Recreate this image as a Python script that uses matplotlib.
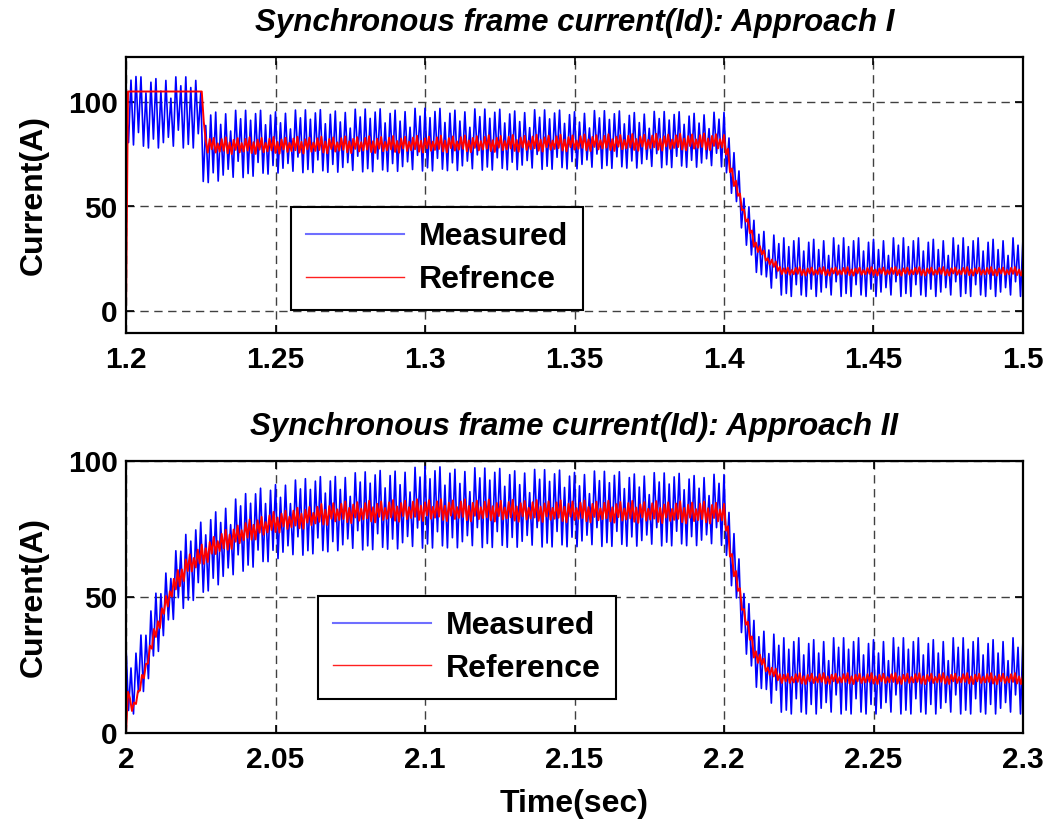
import numpy as np
import matplotlib
matplotlib.use("Agg")
import matplotlib.pyplot as plt

# ---------------- data ----------------
# Panel I (Approach I)
t1_range = (1.2, 1.5)
meas1_t    = [1.2, 1.2015, 1.205, 1.2245, 1.2255, 1.23, 1.25, 1.3, 1.4, 1.402, 1.405, 1.41, 1.415, 1.42, 1.5]
meas1_mean = [88, 98, 95, 95, 79, 79, 81, 82, 82, 72, 55, 32, 24, 21, 21]
meas1_amp  = [10, 18, 17, 17, 18, 17, 15, 15, 13, 13, 12, 12, 13, 14, 14]
ref1_t     = [1.2, 1.20005, 1.2255, 1.2265, 1.23, 1.4, 1.402, 1.405, 1.41, 1.415, 1.42, 1.5]
ref1_mean  = [0, 105, 105, 80, 79, 81, 70, 55, 33, 24, 19, 19]
ref1_amp   = [0, 0, 0, 4, 4, 4, 4, 3, 2.5, 2, 2, 2]

# Panel II (Approach II)
t2_range = (2.0, 2.3)
meas2_t    = [2.0, 2.002, 2.005, 2.01, 2.015, 2.02, 2.03, 2.04, 2.05, 2.07, 2.1, 2.2, 2.202, 2.205, 2.21, 2.215, 2.22, 2.3]
meas2_mean = [20, 16, 24, 40, 52, 60, 68, 74, 78, 81, 83, 82, 70, 52, 30, 24, 21, 21]
meas2_amp  = [12, 10, 12, 12, 12, 13, 14, 14, 14, 14, 15, 13, 13, 12, 12, 13, 14, 14]
ref2_t     = [2.0, 2.0003, 2.002, 2.004, 2.01, 2.015, 2.02, 2.03, 2.04, 2.05, 2.07, 2.1, 2.2, 2.202, 2.205, 2.21, 2.215, 2.22, 2.3]
ref2_mean  = [0, 17, 9, 14, 38, 52, 61, 69, 74, 77.5, 81, 82, 81, 68, 52, 30, 23, 20, 20]
ref2_amp   = [0, 0, 1, 2, 3, 3.5, 4, 4, 4, 4, 4, 4, 4, 3.5, 3, 2.5, 2, 2, 2]

# ripple shapes (peak/trough sequence seen in the traces)
meas_ripple = [1.0, -0.9, 0.7, -1.0, 0.9, -0.6, 1.0, -0.95, 0.55, -1.0,
               0.85, -0.75, 0.95, -1.0, 0.6, -0.85, 0.9, -0.7, 0.4, -0.95,
               1.0, -0.5, 0.75, -1.0]
ref_ripple  = [0.8, -0.6, 1.0, -0.9, 0.4, -1.0, 0.7, -0.5, 0.9, -0.8, 0.3, -0.7]

titles = ["Synchronous frame current(Id): Approach I",
          "Synchronous frame current(Id): Approach II"]
legend_labels = [["Measured", "Refrence"], ["Measured", "Reference"]]
xticks1 = [1.2, 1.25, 1.3, 1.35, 1.4, 1.45, 1.5]
xticks2 = [2.0, 2.05, 2.1, 2.15, 2.2, 2.25, 2.3]
xticklabels1 = ["1.2", "1.25", "1.3", "1.35", "1.4", "1.45", "1.5"]
xticklabels2 = ["2", "2.05", "2.1", "2.15", "2.2", "2.25", "2.3"]
yticks1 = [0, 50, 100]
yticks2 = [0, 50, 100]


def build(t_range, bt, mean, amp, ripple, dt):
    t = np.arange(t_range[0], t_range[1] + dt / 2, dt)
    m = np.interp(t, bt, mean)
    a = np.interp(t, bt, amp)
    r = np.array([ripple[i % len(ripple)] for i in range(len(t))])
    return t, m + a * r


plt.rcParams['font.family'] = ['Liberation Sans', 'DejaVu Sans']
fig = plt.figure(figsize=(10.53, 8.21), dpi=100)

W, H = 1053, 821
ax1 = fig.add_axes([126 / W, 1 - 333 / H, 897 / W, 276 / H])
ax2 = fig.add_axes([126 / W, 1 - 733 / H, 897 / W, 272 / H])

panels = [
    (ax1, t1_range, meas1_t, meas1_mean, meas1_amp, ref1_t, ref1_mean, ref1_amp,
     xticks1, xticklabels1, yticks1, (-10.5, 121.5), (0.184, 0.083), titles[0], legend_labels[0]),
    (ax2, t2_range, meas2_t, meas2_mean, meas2_amp, ref2_t, ref2_mean, ref2_amp,
     xticks2, xticklabels2, yticks2, (0, 100), (0.214, 0.125), titles[1], legend_labels[1]),
]

for (ax, tr, mt, mm, ma, rt, rm, ra, xt, xtl, yt, yl, lpos, title, labels) in panels:
    tm, ym = build(tr, mt, mm, ma, meas_ripple, 1 / 1200)
    trf, yr = build(tr, rt, rm, ra, ref_ripple, 1 / 1500)
    ax.plot(tm, ym, color='#0000ff', lw=1.2)
    ax.plot(trf, yr, color='#ff0000', lw=1.4)
    ax.set_xlim(*tr)
    ax.set_ylim(*yl)
    ax.set_xticks(xt)
    ax.set_xticklabels(xtl)
    ax.set_yticks(yt)
    ax.grid(True, color='0.25', lw=1.0, linestyle=(0, (6, 4)))
    ax.tick_params(direction='in', top=True, right=True, length=6, width=1.2,
                   labelsize=21.5)
    ax.tick_params(axis='x', pad=9)
    ax.tick_params(axis='y', pad=6)
    for lab in ax.get_xticklabels() + ax.get_yticklabels():
        lab.set_fontweight('bold')
    for s in ax.spines.values():
        s.set_linewidth(1.6)
    ax.set_ylabel("Current(A)", fontsize=23, fontweight='bold', labelpad=14)
    ax.set_title(title, fontsize=22.5, fontweight='bold', style='italic', pad=19)
    h1, = ax.plot([], [], color='#6f6fff', lw=1.5)
    h2, = ax.plot([], [], color='#ff2020', lw=1.0)
    leg = ax.legend([h1, h2], labels, loc='lower left', bbox_to_anchor=lpos,
                    prop={'size': 23, 'weight': 'bold'}, frameon=True,
                    fancybox=False, edgecolor='black', framealpha=1,
                    handlelength=3.06, handletextpad=0.45, labelspacing=0.4,
                    borderpad=0.48, borderaxespad=0)
    leg.get_frame().set_linewidth(1.5)

ax2.set_xlabel("Time(sec)", fontsize=23, fontweight='bold', labelpad=11)

fig.savefig("out.png", dpi=100)
